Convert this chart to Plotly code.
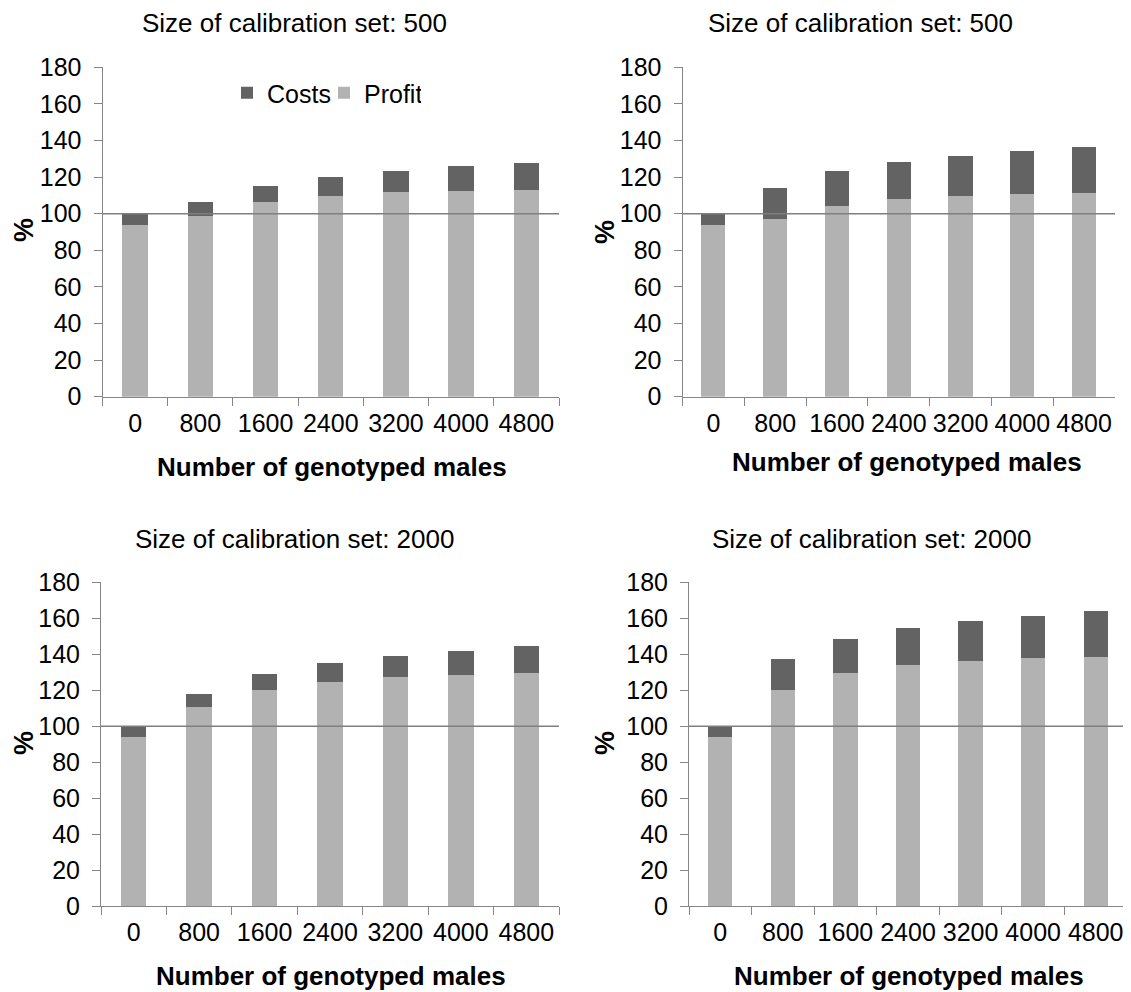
import plotly.graph_objects as go

categories = ["0", "800", "1600", "2400", "3200", "4000", "4800"]

# Panel values: profit (bottom) and total (profit + costs)
profit_500_a = [93.8, 98.7, 106.6, 109.9, 111.7, 112.6, 113.0]
total_500_a = [100.0, 106.2, 115.3, 120.1, 123.5, 126.1, 127.9]
profit_500_b = [93.8, 96.9, 104.4, 107.9, 109.7, 110.6, 111.1]
total_500_b = [100.0, 114.2, 123.5, 128.4, 131.7, 134.3, 136.5]
profit_2000_a = [93.9, 110.9, 120.4, 124.6, 127.2, 128.7, 129.6]
total_2000_a = [99.6, 118.1, 129.1, 135.2, 138.9, 142.0, 144.4]
profit_2000_b = [93.9, 120.2, 129.4, 133.9, 136.3, 137.8, 138.5]
total_2000_b = [99.6, 137.6, 148.3, 154.4, 158.3, 161.5, 163.9]

panel_titles = ["Size of calibration set: 500", "Size of calibration set: 500",
                "Size of calibration set: 2000", "Size of calibration set: 2000"]
x_title = "Number of genotyped males"
y_title = "%"
y_ticks = [0, 20, 40, 60, 80, 100, 120, 140, 160, 180]

panels = [(profit_500_a, total_500_a), (profit_500_b, total_500_b),
          (profit_2000_a, total_2000_a), (profit_2000_b, total_2000_b)]

# the page body has an 8px margin, so the figure is placed 8px in from the window corner
OFF = 8
W, H = 1131 - OFF, 992 - OFF
FONT = "Liberation Sans, Arial, sans-serif"
PROFIT_C = "#b2b2b2"
COST_C = "#636363"
AXIS_C = "#868686"

# window-pixel geometry of each plot area: (x_left, x_right, y_top(180), y_bottom(0))
geom = [(102.5, 559.0, 67.3, 396.7),
        (682.5, 1115.0, 67.3, 396.7),
        (101.0, 559.0, 582.3, 906.3),
        (689.0, 1127.0, 582.3, 906.3)]
title_pos = [(294, 23), (860, 23), (294, 539), (871, 539)]
xtitle_pos = [(332, 467), (907, 462), (331, 976), (909, 976)]
ytitle_pos = [(24, 230), (605, 232), (24, 743), (605, 743)]


def fx(px):
    return (px - OFF) / W


def fy(py):
    return 1 - (py - OFF) / H


fig = go.Figure()
layout = dict()
annotations = []
shapes = []

for i, (profit, total) in enumerate(panels):
    costs = [round(t - p, 2) for t, p in zip(total, profit)]
    xa = "x" if i == 0 else f"x{i+1}"
    ya = "y" if i == 0 else f"y{i+1}"
    fig.add_trace(go.Bar(x=categories, y=profit, name="Profit", marker_color=PROFIT_C,
                         marker_line_width=0, xaxis=xa, yaxis=ya,
                         showlegend=(i == 0), legendgroup="p"))
    fig.add_trace(go.Bar(x=categories, y=costs, name="Costs", marker_color=COST_C,
                         marker_line_width=0, xaxis=xa, yaxis=ya,
                         showlegend=(i == 0), legendgroup="c"))
    xl, xr, yt, yb = geom[i]
    xkey = "xaxis" if i == 0 else f"xaxis{i+1}"
    ykey = "yaxis" if i == 0 else f"yaxis{i+1}"
    layout[xkey] = dict(domain=[fx(xl), fx(xr)], anchor=ya, type="category",
                        range=[-0.5, 6.5], showgrid=False, showline=True,
                        linecolor=AXIS_C, linewidth=1, ticks="outside",
                        tickson="boundaries", ticklen=8, tickcolor=AXIS_C,
                        tickangle=0, automargin=False, ticklabelstandoff=4,
                        tickfont=dict(family=FONT, size=25, color="black"),
                        zeroline=False, fixedrange=True)
    layout[ykey] = dict(domain=[fy(yb), fy(yt)], anchor=xa,
                        range=[0, 180], tickvals=y_ticks, showgrid=False,
                        showline=True, linecolor=AXIS_C, linewidth=1,
                        ticks="outside", ticklen=8, tickcolor=AXIS_C,
                        automargin=False, ticklabelstandoff=7,
                        tickfont=dict(family=FONT, size=25, color="black"),
                        zeroline=False, fixedrange=True)
    shapes.append(dict(type="line", xref=f"{xa} domain", yref=ya, x0=0, x1=1,
                       y0=100, y1=100, line=dict(color="#7f7f7f", width=1.5)))
    tx, ty = title_pos[i]
    annotations.append(dict(text=panel_titles[i], x=fx(tx), y=fy(ty),
                            xref="paper", yref="paper", showarrow=False,
                            xanchor="center", yanchor="middle",
                            font=dict(family=FONT, size=26, color="black")))
    ax, ay = xtitle_pos[i]
    annotations.append(dict(text=f"<b>{x_title}</b>", x=fx(ax), y=fy(ay),
                            xref="paper", yref="paper", showarrow=False,
                            xanchor="center", yanchor="middle",
                            font=dict(family=FONT, size=26, color="black")))
    px, py = ytitle_pos[i]
    annotations.append(dict(text=f"<b>{y_title}</b>", x=fx(px), y=fy(py),
                            xref="paper", yref="paper", showarrow=False,
                            textangle=-90, xanchor="center", yanchor="middle",
                            font=dict(family=FONT, size=27, color="black")))

fig.update_layout(**layout)
fig.update_layout(
    width=W, height=H,
    margin=dict(l=0, r=0, t=0, b=0, pad=0, autoexpand=False),
    paper_bgcolor="white", plot_bgcolor="white",
    barmode="stack", bargap=0.61,
    annotations=annotations, shapes=shapes,
    legend=dict(orientation="h", x=fx(227), y=fy(93), xanchor="left",
                yanchor="middle", traceorder="reversed", itemwidth=30,
                entrywidth=52, entrywidthmode="pixels",
                font=dict(family=FONT, size=25, color="black"),
                bgcolor="rgba(0,0,0,0)", itemclick=False, itemdoubleclick=False),
    showlegend=True,
)

fig.write_html("out.html", config={"displayModeBar": False})
